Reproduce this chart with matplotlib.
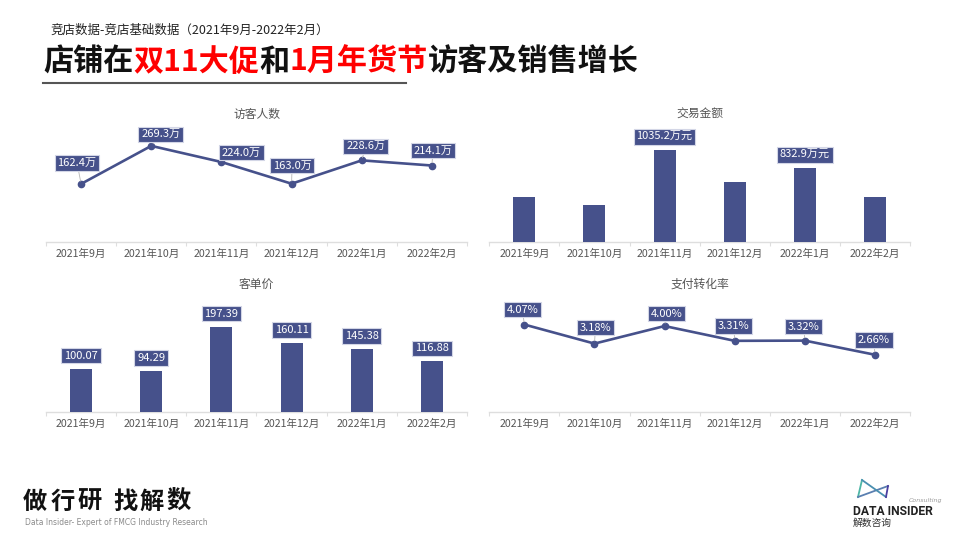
import matplotlib
matplotlib.use('Agg')
import matplotlib.pyplot as plt
from matplotlib.lines import Line2D

plt.rcParams['font.family'] = ['Noto Sans CJK SC', 'DejaVu Sans']

# ---------------- data ----------------
months = ['2021年9月', '2021年10月', '2021年11月', '2021年12月', '2022年1月', '2022年2月']
visitors = [162.4, 269.3, 224.0, 163.0, 228.6, 214.1]          # 万
sales = [508, 411, 1035.2, 674, 832.9, 505]                      # 万元
sales_labeled = [False, False, True, False, True, False]
avg_price = [100.07, 94.29, 197.39, 160.11, 145.38, 116.88]
conversion = [4.07, 3.18, 4.00, 3.31, 3.32, 2.66]                # %

subheader = '竞店数据-竞店基础数据（2021年9月-2022年2月）'
title_parts = ['店铺在', '双11大促', '和', '1月年货节', '访客及销售增长']
title_colors = ['#111111', '#ff0000', '#111111', '#ff0000', '#111111']
chart_titles = ['访客人数', '交易金额', '客单价', '支付转化率']

# ---------------- style ----------------
NAVY = '#46518b'
W, H = 960, 540
fig = plt.figure(figsize=(9.6, 5.4), dpi=100)
fig.patch.set_facecolor('white')


def px_axes(x0, x1, ybase, ytop):
    return fig.add_axes([x0 / W, 1 - ybase / H, (x1 - x0) / W, (ybase - ytop) / H])


def style(ax, ymax):
    ax.set_xlim(-0.5, 5.5)
    ax.set_ylim(0, ymax)
    for s in ['top', 'right', 'left']:
        ax.spines[s].set_visible(False)
    ax.spines['bottom'].set_color('#dedede')
    ax.spines['bottom'].set_linewidth(1)
    ax.set_yticks([])
    ax.set_xticks(range(len(months)))
    ax.set_xticklabels(months, fontsize=7.6, color='#555555')
    ax.tick_params(axis='x', which='major', length=0, pad=5)
    ax.set_xticks([i - 0.5 for i in range(len(months) + 1)], minor=True)
    ax.tick_params(axis='x', which='minor', length=3, color='#dedede', width=0.8)
    ax.patch.set_alpha(0)


def box_label(ax, x, y, text, dx, dy, leader=True):
    ax.annotate(text, xy=(x, y), xytext=(dx * 0.72, dy * 0.72),
                textcoords='offset points', ha='center', va='center',
                fontsize=8, color='white',
                bbox=dict(boxstyle='square,pad=0.25', fc=NAVY, ec='#d3d6e6', lw=0.8),
                arrowprops=(dict(arrowstyle='-', color='#b5b5b5', lw=0.6,
                                 shrinkA=0, shrinkB=2) if leader else None),
                annotation_clip=False, zorder=6)


def chart_title(text, cx, cy):
    fig.text(cx / W, 1 - cy / H, text, ha='center', va='center',
             fontsize=8.5, color='#555555')


xs = list(range(len(months)))

# --- 访客人数 (line) ---
ax1 = px_axes(46, 467, 241.7, 125)
style(ax1, 328)
ax1.plot(xs, visitors, color=NAVY, lw=1.9, marker='o', ms=4.5, clip_on=False,
         solid_joinstyle='round', zorder=4)
off1 = [(-4, 21), (9.5, 11.5), (20, 9.5), (0.5, 18), (4, 14), (1, 15)]
for i, v in enumerate(visitors):
    box_label(ax1, i, v, f'{v:.1f}万', *off1[i])
chart_title(chart_titles[0], 256.5, 114)

# --- 交易金额 (bar) ---
ax2 = px_axes(489.3, 910, 241.7, 125)
style(ax2, 1317)
ax2.bar(xs, sales, width=0.314, color=NAVY, zorder=3)
for i, v in enumerate(sales):
    if sales_labeled[i]:
        box_label(ax2, i, v, f'{v:.1f}万元', 0, 13, leader=False)
chart_title(chart_titles[1], 699.7, 114)

# --- 客单价 (bar) ---
ax3 = px_axes(46, 467, 411.7, 295)
style(ax3, 271)
ax3.bar(xs, avg_price, width=0.314, color=NAVY, zorder=3)
for i, v in enumerate(avg_price):
    box_label(ax3, i, v, f'{v:.2f}', 0, 13, leader=False)
chart_title(chart_titles[2], 256.5, 284)

# --- 支付转化率 (line) ---
ax4 = px_axes(489.3, 910, 411.7, 295)
style(ax4, 5.45)
ax4.plot(xs, conversion, color=NAVY, lw=1.9, marker='o', ms=4.5, clip_on=False,
         solid_joinstyle='round', zorder=4)
off4 = [(-2, 15), (1, 16), (2, 12.5), (-1, 15), (-1, 14), (-1, 15)]
for i, v in enumerate(conversion):
    box_label(ax4, i, v, f'{v:.2f}%', *off4[i])
chart_title(chart_titles[3], 699.7, 284)

# ---------------- header ----------------
fig.text(50 / W, 1 - 30.7 / H, subheader, ha='left', va='center',
         fontsize=9, color='#222222')

renderer = fig.canvas.get_renderer()
x = 43.3
for part, col in zip(title_parts, title_colors):
    t = fig.text(x / W, 1 - 61.7 / H, part, ha='left', va='center',
                 fontsize=21.7, fontweight='bold', color=col)
    bb = t.get_window_extent(renderer)
    x = bb.x1

fig.add_artist(Line2D([43 / W, 406 / W], [1 - 82.7 / H, 1 - 82.7 / H],
                      color='#555555', lw=1.5))

# ---------------- footer ----------------
slogan = '做行研 找解数'
slogan_x = [35, 62.5, 90, None, 125, 152, 179]
for ch, cx in zip(slogan, slogan_x):
    if cx is None:
        continue
    fig.text(cx / W, 1 - 501.7 / H, ch, ha='center', va='center',
             fontsize=17.5, fontweight='bold', color='#111111')
fig.text(25 / W, 1 - 522.7 / H, 'Data Insider- Expert of FMCG Industry Research',
         ha='left', va='center', fontsize=5.5, color='#8a8a8a', family='DejaVu Sans')

# logo
A, B, C, D = (862, 480), (858, 497), (888, 486), (886, 497)
def fl(p, q, col):
    fig.add_artist(Line2D([p[0] / W, q[0] / W], [1 - p[1] / H, 1 - q[1] / H],
                          color=col, lw=1.3))
fl(A, B, '#4db6a6')
fl(B, C, '#5a7fb0')
fl(A, D, '#4a8fb0')
fl(C, D, '#4b3fa0')
fig.text(853 / W, 1 - 511.7 / H, 'DATA INSIDER', ha='left', va='center',
         fontsize=8.7, fontweight='bold', color='#222222', family='Roboto')
fig.text(942 / W, 1 - 500.7 / H, 'Consulting', ha='right', va='center',
         fontsize=4.5, style='italic', color='#9a9a9a', family='DejaVu Sans')
fig.text(853 / W, 1 - 523.3 / H, '解数咨询', ha='left', va='center',
         fontsize=7, color='#333333')

fig.savefig('out.png', dpi=100)
